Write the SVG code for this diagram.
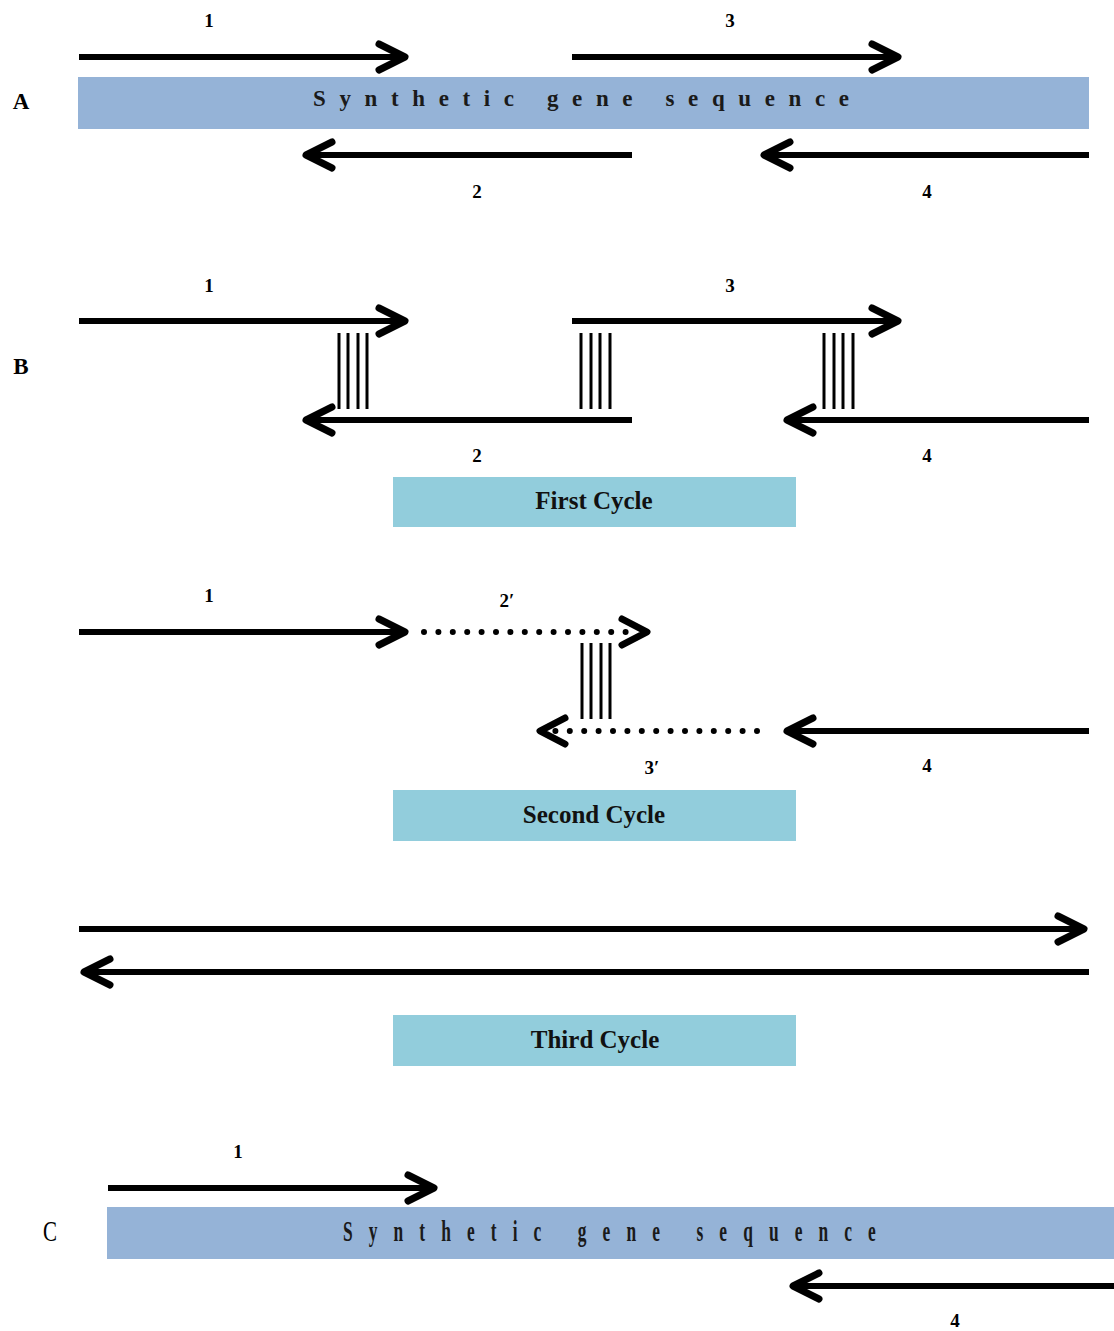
<svg xmlns="http://www.w3.org/2000/svg" width="1114" height="1331" viewBox="0 0 1114 1331">
  <style>
    .strand { stroke: #000; stroke-width: 6; fill: none; }
    .fwd { marker-end: url(#chev); }
    .rev { marker-end: url(#chev); }
    .dots { stroke: #000; stroke-width: 6; fill: none; stroke-linecap: round; stroke-dasharray: 0 14.4; }
    .head { fill: none; stroke: #000; stroke-width: 7; stroke-linecap: round; stroke-linejoin: round; }
    .hatch { stroke: #000; stroke-width: 3; }
    .gene { fill: #95B3D7; }
    .cycle { fill: #92CDDC; }
    .num { font-family: "Liberation Serif", serif; font-weight: bold; font-size: 19px; text-anchor: middle; fill: #000; }
    .panel { font-family: "Liberation Serif", serif; font-weight: bold; font-size: 23px; text-anchor: middle; fill: #000; }
    .panelc { font-family: "Liberation Serif", serif; font-size: 30px; text-anchor: middle; fill: #000; }
    .seq { font-family: "Liberation Serif", serif; font-weight: bold; font-size: 23px; fill: #1a1a1a; }
    .seqc { font-family: "Liberation Serif", serif; font-weight: bold; font-size: 29px; fill: #1a1a1a; }
    .cyc { font-family: "Liberation Serif", serif; font-weight: bold; font-size: 25px; text-anchor: middle; fill: #111; }
  </style>
  <defs>
    <marker id="chev" markerUnits="userSpaceOnUse" viewBox="-34 -18 40 36" markerWidth="40" markerHeight="36" refX="0" refY="0" orient="auto" overflow="visible">
      <path d="M-26,-13 L0,0 L-26,13" fill="none" stroke="#000" stroke-width="7" stroke-linecap="round" stroke-linejoin="round"/>
    </marker>
  </defs>

  <!-- Panel A -->
  <g id="panelA">
    <text class="panel" x="21" y="109">A</text>
    <g id="geneA">
      <rect class="gene" x="78" y="77" width="1011" height="52"/>
      <text class="seq" x="313" y="106" textLength="536" lengthAdjust="spacing">Synthetic gene sequence</text>
    </g>
    <text class="num" x="209" y="27">1</text>
    <text class="num" x="730" y="27">3</text>
    <text class="num" x="477" y="198">2</text>
    <text class="num" x="927" y="198">4</text>
  </g>

  <!-- Panel B: first cycle -->
  <g id="panelB">
    <text class="panel" x="21" y="374">B</text>
    <text class="num" x="209" y="292">1</text>
    <text class="num" x="730" y="292">3</text>
    <text class="num" x="477" y="462">2</text>
    <text class="num" x="927" y="462">4</text>
    <g id="pairB1" class="hatch">
      <line x1="339" y1="333" x2="339" y2="409"/>
      <line x1="348" y1="333" x2="348" y2="409"/>
      <line x1="358" y1="333" x2="358" y2="409"/>
      <line x1="367" y1="333" x2="367" y2="409"/>
    </g>
    <g id="pairB2" class="hatch">
      <line x1="581" y1="333" x2="581" y2="409"/>
      <line x1="591" y1="333" x2="591" y2="409"/>
      <line x1="600" y1="333" x2="600" y2="409"/>
      <line x1="610" y1="333" x2="610" y2="409"/>
    </g>
    <g id="pairB3" class="hatch">
      <line x1="824" y1="333" x2="824" y2="409"/>
      <line x1="834" y1="333" x2="834" y2="409"/>
      <line x1="843" y1="333" x2="843" y2="409"/>
      <line x1="853" y1="333" x2="853" y2="409"/>
    </g>
    <g id="firstCycle">
      <rect class="cycle" x="393" y="477" width="403" height="50"/>
      <text class="cyc" x="594" y="509">First Cycle</text>
    </g>
  </g>

  <!-- Second cycle -->
  <g id="second">
    <text class="num" x="209" y="602">1</text>
    <text class="num" x="507" y="607">2′</text>
    <text class="num" x="652" y="774">3′</text>
    <text class="num" x="927" y="772">4</text>
    <g id="pairS" class="hatch">
      <line x1="582" y1="643" x2="582" y2="719"/>
      <line x1="591" y1="643" x2="591" y2="719"/>
      <line x1="601" y1="643" x2="601" y2="719"/>
      <line x1="610" y1="643" x2="610" y2="719"/>
    </g>
    <g id="secondCycle">
      <rect class="cycle" x="393" y="790" width="403" height="51"/>
      <text class="cyc" x="594" y="823">Second Cycle</text>
    </g>
  </g>

  <!-- Third cycle -->
  <g id="third">
    <g id="thirdCycle">
      <rect class="cycle" x="393" y="1015" width="403" height="51"/>
      <text class="cyc" x="595" y="1048">Third Cycle</text>
    </g>
  </g>

  <!-- Panel C -->
  <g id="panelC">
    <text class="panelc" transform="translate(50 1241) scale(0.7 1)" x="0" y="0">C</text>
    <g id="geneC">
      <rect class="gene" x="107" y="1207" width="1007" height="52"/>
      <text class="seqc" transform="translate(343 1241) scale(0.6 1)" x="0" y="0" textLength="888" lengthAdjust="spacing">Synthetic gene sequence</text>
    </g>
    <text class="num" x="238" y="1158">1</text>
    <text class="num" x="955" y="1327">4</text>
  </g>

  <!-- Primer strands -->
  <g id="connectors">
    <!-- A -->
    <line class="strand fwd" x1="79" y1="57" x2="405" y2="57"/>
    <line class="strand fwd" x1="572" y1="57" x2="898" y2="57"/>
    <line class="strand rev" x1="632" y1="155" x2="306" y2="155"/>
    <line class="strand rev" x1="1089" y1="155" x2="764" y2="155"/>
    <!-- B -->
    <line class="strand fwd" x1="79" y1="321" x2="405" y2="321"/>
    <line class="strand fwd" x1="572" y1="321" x2="898" y2="321"/>
    <line class="strand rev" x1="632" y1="420" x2="306" y2="420"/>
    <line class="strand rev" x1="1089" y1="420" x2="787" y2="420"/>
    <!-- second cycle -->
    <line class="strand fwd" x1="79" y1="632" x2="405" y2="632"/>
    <line class="dots" x1="424" y1="632" x2="630" y2="632"/>
    <path class="head" d="M622,619 L647,632 L622,645"/>
    <line class="dots" x1="757" y1="731" x2="551" y2="731"/>
    <path class="head" d="M565,718 L540,731 L565,744"/>
    <line class="strand rev" x1="1089" y1="731" x2="787" y2="731"/>
    <!-- third cycle -->
    <line class="strand fwd" x1="79" y1="929" x2="1084" y2="929"/>
    <line class="strand rev" x1="1089" y1="972" x2="84" y2="972"/>
    <!-- C -->
    <line class="strand fwd" x1="108" y1="1188" x2="434" y2="1188"/>
    <line class="strand rev" x1="1114" y1="1286" x2="793" y2="1286"/>
  </g>
</svg>
